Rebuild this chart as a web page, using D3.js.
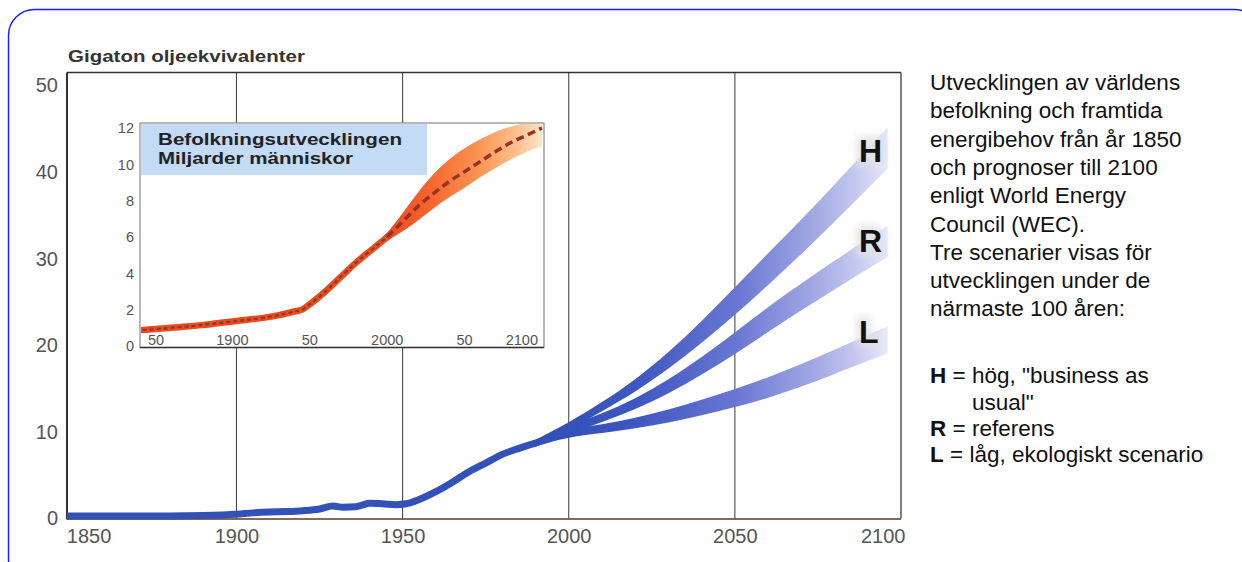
<!DOCTYPE html>
<html>
<head>
<meta charset="utf-8">
<script src="https://cdn.jsdelivr.net/npm/d3@7"></script>
<style>
  html, body { margin: 0; padding: 0; background: #ffffff; }
  svg { display: block; font-family: "Liberation Sans", Arial, sans-serif; }
</style>
</head>
<body>
<svg id="chart" width="1242" height="562"></svg>
<script>
// ---------------- DATA ----------------
// Main chart: world energy demand, Gigaton oil equivalents
const histYears  = [1849, 1860, 1870, 1880, 1890, 1900, 1905, 1910, 1915, 1920, 1925, 1929, 1932, 1936, 1940, 1944, 1948, 1951, 1955, 1960, 1965, 1970, 1975, 1980, 1985, 1990];
const histValues = [0.3, 0.3, 0.3, 0.3, 0.35, 0.5, 0.65, 0.75, 0.8, 0.9, 1.1, 1.45, 1.3, 1.35, 1.75, 1.7, 1.6, 1.7, 2.2, 3.1, 4.2, 5.4, 6.4, 7.4, 8.1, 8.7];

// WEC scenarios 1990-2100 (lower and upper edge of each band)
const scenYears = [1990, 2000, 2010, 2020, 2030, 2040, 2050, 2060, 2070, 2080, 2090, 2096];
const hLow  = [8.3, 10.15, 12.4, 14.6, 17.25, 20.25, 23.5, 26.95, 30.5, 34.25, 38.1, 40.4];
const hHigh = [9.1, 11.05, 13.4, 16.0, 19.15, 22.75, 26.7, 30.65, 34.5, 38.55, 42.7, 45.2];
const rLow  = [8.3, 9.8, 11.1, 12.6, 14.4, 16.6, 18.95, 21.55, 24.05, 26.45, 28.85, 30.2];
const rHigh = [9.1, 10.7, 12.1, 13.8, 16.0, 18.6, 21.45, 24.45, 27.15, 29.75, 32.35, 33.8];
const lLow  = [8.3, 9.45, 9.85, 10.4, 11.05, 11.9, 12.85, 13.9, 15.2, 16.7, 18.2, 19.05];
const lHigh = [9.1, 10.35, 10.85, 11.6, 12.55, 13.7, 14.95, 16.3, 17.8, 19.5, 21.2, 22.15];
const scenLabels = ["H", "R", "L"];
const scenLabelValues = [41.2, 30.8, 20.3];

const xTicks = [1850, 1900, 1950, 2000, 2050, 2100];
const yTicks = [0, 10, 20, 30, 40, 50];
const gridYears = [1900, 1950, 2000, 2050];

// Inset: world population, billions
const popYears  = [1842, 1850, 1860, 1870, 1880, 1890, 1900, 1910, 1920, 1930, 1940, 1945, 1950, 1960, 1970, 1980, 1990, 2000];
const popValues = [0.88, 0.93, 1.0, 1.07, 1.15, 1.25, 1.35, 1.45, 1.55, 1.7, 1.9, 2.0, 2.3, 3.0, 3.8, 4.6, 5.3, 6.0];
const popFutYears = [2000, 2010, 2020, 2030, 2040, 2050, 2060, 2070, 2080, 2090, 2100];
const popFutMid   = [6.0, 6.85, 7.7, 8.4, 9.05, 9.6, 10.15, 10.7, 11.2, 11.6, 12.0];
const popBandYears = [1990, 2000, 2010, 2020, 2030, 2040, 2050, 2060, 2070, 2080, 2090, 2100];
const popLow  = [5.2, 5.8, 6.3, 6.9, 7.6, 8.2, 8.7, 9.3, 9.8, 10.3, 10.7, 11.0];
const popHigh = [5.4, 6.2, 7.3, 8.5, 9.5, 10.3, 10.9, 11.4, 11.8, 12.1, 12.3, 12.5];
const insetXTicks = [1850, 1900, 1950, 2000, 2050, 2100];
const insetXLabels = ["50", "1900", "50", "2000", "50", "2100"];
const insetYTicks = [0, 2, 4, 6, 8, 10, 12];

const titleText = "Gigaton oljeekvivalenter";
const insetTitle = ["Befolkningsutvecklingen", "Miljarder människor"];
const sideText = [
  "Utvecklingen av världens",
  "befolkning och framtida",
  "energibehov från år 1850",
  "och prognoser till 2100",
  "enligt World Energy",
  "Council (WEC).",
  "Tre scenarier visas för",
  "utvecklingen under de",
  "närmaste 100 åren:"
];
const legendItems = [
  { key: "H", text: " = hög, \"business as" },
  { key: "",  text: "usual\"" },
  { key: "R", text: " = referens" },
  { key: "L", text: " = låg, ekologiskt scenario" }
];

// ---------------- DRAW ----------------
const svg = d3.select("#chart");
const defs = svg.append("defs");

// outer rounded border
svg.append("rect")
  .attr("x", 8.5).attr("y", 9.5).attr("width", 1252).attr("height", 576)
  .attr("rx", 26).attr("ry", 26)
  .attr("fill", "none").attr("stroke", "#1a1aff").attr("stroke-width", 1.4);

const x = d3.scaleLinear().domain([1849, 2100]).range([67, 901]);
const y = d3.scaleLinear().domain([0, 50]).range([518.5, 85.5]);
const plotTop = 72.5, plotBottom = 518.5, plotLeft = 67, plotRight = 901;

// title
svg.append("text")
  .attr("x", 68).attr("y", 62)
  .attr("font-size", 17).attr("font-weight", "bold").attr("fill", "#333")
  .attr("textLength", 237).attr("lengthAdjust", "spacingAndGlyphs")
  .text(titleText);

// gridlines
svg.append("g").selectAll("line").data(gridYears).join("line")
  .attr("x1", d => x(d)).attr("x2", d => x(d))
  .attr("y1", plotTop).attr("y2", plotBottom)
  .attr("stroke", "#4a4a4a").attr("stroke-width", 1.1);

// frame
svg.append("line").attr("x1", plotLeft).attr("x2", plotRight).attr("y1", plotTop).attr("y2", plotTop)
  .attr("stroke", "#333").attr("stroke-width", 1.3);
svg.append("line").attr("x1", plotRight).attr("x2", plotRight).attr("y1", plotTop).attr("y2", plotBottom)
  .attr("stroke", "#555").attr("stroke-width", 1.5);
svg.append("line").attr("x1", plotLeft).attr("x2", plotLeft).attr("y1", plotTop).attr("y2", plotBottom + 1)
  .attr("stroke", "#221a22").attr("stroke-width", 1.8);
svg.append("line").attr("x1", plotLeft).attr("x2", plotRight).attr("y1", plotBottom + 0.5).attr("y2", plotBottom + 0.5)
  .attr("stroke", "#5a3a1e").attr("stroke-width", 1.6);

// axes labels
const xAxis = d3.axisBottom(x).tickValues(xTicks).tickSize(0).tickPadding(0).tickFormat(d3.format("d"));
const gx = svg.append("g").attr("transform", `translate(0, ${plotBottom + 10})`).call(xAxis);
gx.select(".domain").remove();
gx.selectAll("text")
  .attr("font-size", 20).attr("fill", "#555").attr("font-family", "Liberation Sans, Arial, sans-serif")
  .attr("dy", "0.71em")
  .attr("text-anchor", d => d === 1850 ? "start" : (d === 2100 ? "end" : "middle"))
  .attr("dx", d => d === 1850 ? -4 : (d === 2100 ? 4 : 0));

const yAxis = d3.axisLeft(y).tickValues(yTicks).tickSize(0).tickPadding(9).tickFormat(d3.format("d"));
const gy = svg.append("g").attr("transform", `translate(${plotLeft}, 0)`).call(yAxis);
gy.select(".domain").remove();
gy.selectAll("text")
  .attr("font-size", 20).attr("fill", "#555").attr("font-family", "Liberation Sans, Arial, sans-serif");

// clip for plot
defs.append("clipPath").attr("id", "plotClip").append("rect")
  .attr("x", plotLeft).attr("y", plotTop).attr("width", plotRight - plotLeft).attr("height", plotBottom - plotTop + 4);

// scenario gradient
const grad = defs.append("linearGradient").attr("id", "bandGrad")
  .attr("gradientUnits", "userSpaceOnUse")
  .attr("x1", x(1995)).attr("x2", x(2097)).attr("y1", 0).attr("y2", 0);
[[0, "#3150b8"], [0.25, "#3e57c1"], [0.55, "#6a78d2"], [0.8, "#a9aee6"], [0.93, "#cfd2f3"], [1, "#eeeefa"]]
  .forEach(([o, c]) => grad.append("stop").attr("offset", o).attr("stop-color", c));

// soft glow behind scenario letters
const glow = defs.append("filter").attr("id", "glow").attr("x", "-50%").attr("y", "-50%").attr("width", "200%").attr("height", "200%");
glow.append("feGaussianBlur").attr("stdDeviation", 4);

const plotG = svg.append("g").attr("clip-path", "url(#plotClip)");

// scenario bands
const bandArea = d3.area()
  .x(d => x(d.year)).y0(d => y(d.low)).y1(d => y(d.high))
  .curve(d3.curveBasis);
const bands = [
  { name: "L", low: lLow, high: lHigh },
  { name: "R", low: rLow, high: rHigh },
  { name: "H", low: hLow, high: hHigh }
];
bands.forEach(b => {
  const pts = scenYears.map((yr, i) => ({ year: yr, low: b.low[i], high: b.high[i] }));
  plotG.append("path").datum(pts)
    .attr("d", bandArea)
    .attr("fill", "url(#bandGrad)");
});

// historical energy line
const histLine = d3.line().x((d, i) => x(histYears[i])).y(d => y(d)).curve(d3.curveMonotoneX);
plotG.append("path").datum(histValues)
  .attr("d", histLine)
  .attr("fill", "none").attr("stroke", "#3352b8").attr("stroke-width", 7)
  .attr("stroke-linecap", "round").attr("stroke-linejoin", "round");

// scenario letters
const lab = svg.append("g");
lab.selectAll("text.glow").data(scenLabels).join("text").attr("class", "glow")
  .attr("x", 859).attr("y", (d, i) => y(scenLabelValues[i]))
  .attr("font-size", 32).attr("font-weight", "bold")
  .attr("fill", "#e2e2e8").attr("stroke", "#e2e2e8").attr("stroke-width", 8)
  .attr("filter", "url(#glow)")
  .text(d => d);
lab.selectAll("text.lbl").data(scenLabels).join("text").attr("class", "lbl")
  .attr("x", 859).attr("y", (d, i) => y(scenLabelValues[i]))
  .attr("font-size", 32).attr("font-weight", "bold").attr("fill", "#111")
  .text(d => d);

// ---------------- INSET ----------------
const ix = d3.scaleLinear().domain([1850, 2100]).range([155, 542]);
const iy = d3.scaleLinear().domain([0, 12]).range([346, 128]);
const inL = 140, inT = 123, inR = 544, inB = 347.5;

svg.append("rect").attr("x", inL).attr("y", inT).attr("width", inR - inL).attr("height", inB - inT)
  .attr("fill", "#fff").attr("stroke", "#8a8a8a").attr("stroke-width", 1.2);
svg.append("line").attr("x1", inL).attr("x2", inR).attr("y1", inB).attr("y2", inB)
  .attr("stroke", "#333").attr("stroke-width", 1.6);

defs.append("clipPath").attr("id", "insetClip").append("rect")
  .attr("x", inL + 1).attr("y", inT + 1).attr("width", inR - inL - 2).attr("height", inB - inT - 2);

// inset title box
svg.append("rect").attr("x", inL + 1).attr("y", inT + 1).attr("width", 286).attr("height", 51)
  .attr("fill", "#c3dbf5");
svg.append("g").selectAll("text").data(insetTitle).join("text")
  .attr("x", 158).attr("y", (d, i) => 145 + i * 19)
  .attr("font-size", 17).attr("font-weight", "bold").attr("fill", "#222")
  .attr("textLength", (d, i) => i === 0 ? 244 : 195).attr("lengthAdjust", "spacingAndGlyphs")
  .text(d => d);

const popGrad = defs.append("linearGradient").attr("id", "popGrad")
  .attr("gradientUnits", "userSpaceOnUse")
  .attr("x1", ix(1995)).attr("x2", ix(2100)).attr("y1", 0).attr("y2", 0);
[[0, "#ec4420"], [0.3, "#f5642c"], [0.6, "#fa9350"], [0.85, "#fcc291"], [1, "#fde4c8"]]
  .forEach(([o, c]) => popGrad.append("stop").attr("offset", o).attr("stop-color", c));

const insetG = svg.append("g").attr("clip-path", "url(#insetClip)");
const popArea = d3.area()
  .x((d, i) => ix(popBandYears[i])).y0(d => iy(d[0])).y1(d => iy(d[1]))
  .curve(d3.curveBasis);
insetG.append("path").datum(popLow.map((v, i) => [v, popHigh[i]]))
  .attr("d", popArea).attr("fill", "url(#popGrad)");

const popLine = d3.line().x((d, i) => ix(popYears[i])).y(d => iy(d)).curve(d3.curveMonotoneX);
insetG.append("path").datum(popValues).attr("d", popLine)
  .attr("fill", "none").attr("stroke", "#ea4a1e").attr("stroke-width", 6.5).attr("stroke-linecap", "round");
insetG.append("path").datum(popValues).attr("d", popLine)
  .attr("fill", "none").attr("stroke", "#8a3a28").attr("stroke-width", 2.2).attr("stroke-dasharray", "4,3");

const popFutLine = d3.line().x((d, i) => ix(popFutYears[i])).y(d => iy(d)).curve(d3.curveMonotoneX);
insetG.append("path").datum(popFutMid).attr("d", popFutLine)
  .attr("fill", "none").attr("stroke", "#9a3224").attr("stroke-width", 3.5).attr("stroke-dasharray", "8,4.5");

// inset axis labels
svg.append("g").selectAll("text").data(insetYTicks).join("text")
  .attr("x", 134).attr("y", d => iy(d)).attr("dy", "0.36em")
  .attr("text-anchor", "end").attr("font-size", 14.5).attr("fill", "#555")
  .text(d => d);
svg.append("g").selectAll("text").data(insetXTicks).join("text")
  .attr("x", d => ix(d)).attr("y", 345)
  .attr("text-anchor", d => d === 1850 ? "start" : (d === 2100 ? "end" : "middle"))
  .attr("dx", d => d === 1850 ? -7 : (d === 2100 ? -4 : 0))
  .attr("font-size", 14.5).attr("fill", "#555")
  .text((d, i) => insetXLabels[i]);

// ---------------- SIDE TEXT ----------------
const side = svg.append("g").attr("font-size", 22.5).attr("fill", "#111");
side.selectAll("text.s").data(sideText).join("text").attr("class", "s")
  .attr("x", 930).attr("y", (d, i) => 90 + i * 28.3)
  .text(d => d);
const legY = [383, 409.5, 436, 462];
legendItems.forEach((it, i) => {
  const t = side.append("text").attr("x", it.key ? 930 : 972).attr("y", legY[i]);
  if (it.key) t.append("tspan").attr("font-weight", "bold").text(it.key);
  t.append("tspan").text(it.text);
});
</script>
</body>
</html>
